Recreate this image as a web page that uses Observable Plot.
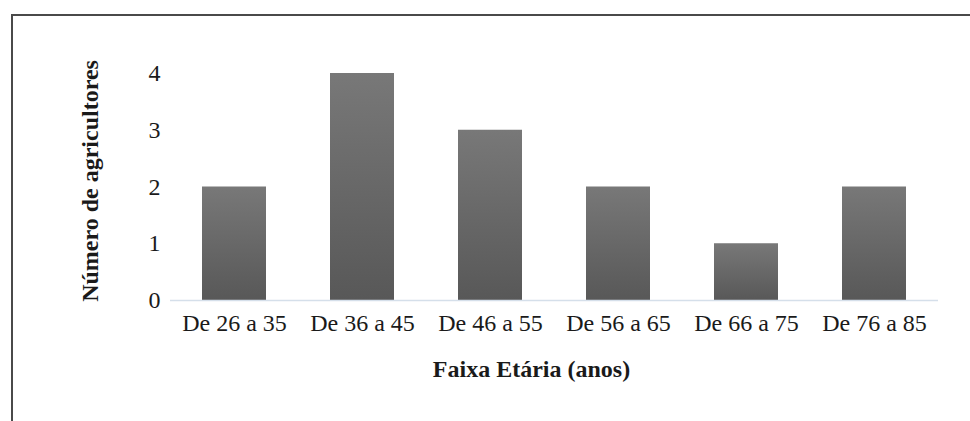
<!DOCTYPE html>
<html>
<head>
<meta charset="utf-8">
<script src="https://cdn.jsdelivr.net/npm/d3@7"></script>
<script src="https://cdn.jsdelivr.net/npm/@observablehq/plot@0.6"></script>
<style>
  html, body { margin: 0; padding: 0; background: #fff; }
  #wrap { position: relative; width: 970px; height: 421px; overflow: hidden; font-family: "Liberation Serif", serif; }
  #frame { position: absolute; left: 11px; top: 14px; width: 1000px; height: 500px;
           border-top: 2px solid #4a4a4a; border-left: 2px solid #4a4a4a; box-sizing: border-box; }
  #chart { position: absolute; left: 0; top: 0; }
  #chart svg, #chart svg text { font-family: "Liberation Serif", serif !important; }
</style>
</head>
<body>
<div id="wrap"><div id="frame"></div><div id="chart"></div></div>
<script>
const categories = ["De 26 a 35", "De 36 a 45", "De 46 a 55", "De 56 a 65", "De 66 a 75", "De 76 a 85"];
const values = [2, 4, 3, 2, 1, 2];
const yTicks = [0, 1, 2, 3, 4];
const xTitle = "Faixa Etária (anos)";
const yTitle = "Número de agricultores";

const data = categories.map((c, i) => ({category: c, value: values[i]}));
const FONT = "Liberation Serif";

const defs = () => {
  const d = d3.create("svg:defs");
  const g = d.append("linearGradient").attr("id", "barGrad")
    .attr("x1", 0).attr("y1", 0).attr("x2", 0).attr("y2", 1);
  g.append("stop").attr("offset", "0%").attr("stop-color", "#787878");
  g.append("stop").attr("offset", "100%").attr("stop-color", "#585858");
  return d.node();
};

const chart = Plot.plot({
  width: 970,
  height: 421,
  marginLeft: 170,
  marginRight: 32,
  marginTop: 73,
  marginBottom: 121,
  style: {fontFamily: FONT, fontSize: "24px", color: "#1a1a1a", background: "transparent"},
  x: {domain: categories, paddingInner: 0.5, paddingOuter: 0.25, label: null},
  y: {domain: [0, 4], label: null},
  marks: [
    defs,
    Plot.barY(data, {x: "category", y: "value", fill: "url(#barGrad)"}),
    Plot.ruleY([0], {stroke: "#d5dfea", strokeWidth: 1.5}),
    Plot.axisX({tickSize: 0, tickPadding: 13, fontSize: 24, fontFamily: FONT, fill: "#1a1a1a"}),
    Plot.axisY({ticks: yTicks, tickSize: 0, tickPadding: 10, fontSize: 24, fontFamily: FONT, fill: "#1a1a1a", tickFormat: d3.format("d")}),
    Plot.text([xTitle], {text: d => d, frameAnchor: "bottom", dx: -23, dy: 76, fontWeight: "bold", fontSize: 24, fontFamily: FONT, fill: "#1a1a1a", lineAnchor: "bottom"}),
    Plot.text([yTitle], {text: d => d, frameAnchor: "left", dx: -80, dy: -6, rotate: -90, fontWeight: "bold", fontSize: 24, fontFamily: FONT, fill: "#1a1a1a", textAnchor: "middle"})
  ]
});
document.getElementById("chart").appendChild(chart);
</script>
</body>
</html>
